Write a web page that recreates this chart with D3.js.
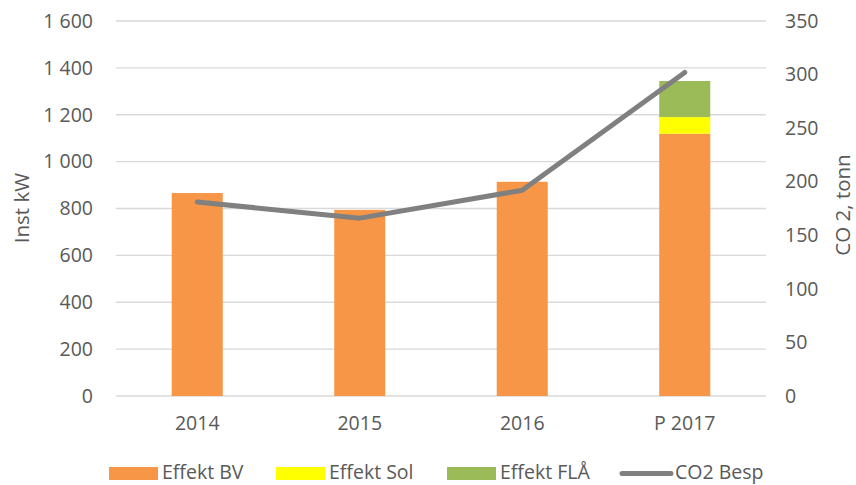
<!DOCTYPE html>
<html>
<head>
<meta charset="utf-8">
<script src="https://cdn.jsdelivr.net/npm/d3@7"></script>
<style>
  body { margin: 0; background: #fff; }
  text { font-family: "Open Sans", sans-serif; fill: #595959; }
</style>
</head>
<body>
<svg id="chart" width="856" height="485"></svg>
<script>
var years = ["2014", "2015", "2016", "P 2017"];
var effektBV = [866, 794, 914, 1119];
var effektSol = [0, 0, 0, 71];
var effektFLA = [0, 0, 0, 154];
var co2Besp = [181, 166, 192, 302];
var leftTicks = [0, 200, 400, 600, 800, 1000, 1200, 1400, 1600];
var rightTicks = [0, 50, 100, 150, 200, 250, 300, 350];

var seriesKeys = ["bv", "sol", "fla"];
var seriesNames = { bv: "Effekt BV", sol: "Effekt Sol", fla: "Effekt FLÅ" };
var colors = { bv: "#F79646", sol: "#FFFF00", fla: "#9BBB59" };

var rows = years.map(function(y, i) {
  return { year: y, bv: effektBV[i], sol: effektSol[i], fla: effektFLA[i], co2: co2Besp[i] };
});

var svg = d3.select("#chart");
var m = { left: 116, right: 766, top: 21, bottom: 396 };
var fs = "19.5px";

var x = d3.scaleBand().domain(years).range([m.left, m.right]).paddingInner(0.686).paddingOuter(0.343);
var y = d3.scaleLinear().domain([0, 1600]).range([m.bottom, m.top]);
var y2 = d3.scaleLinear().domain([0, 350]).range([m.bottom, m.top]);

var fmt = d3.formatLocale({ decimal: ",", thousands: "\u00a0", grouping: [3], currency: ["", ""] }).format(",d");

// grid
svg.append("g")
  .selectAll("line")
  .data(leftTicks)
  .join("line")
  .attr("x1", m.left).attr("x2", m.right)
  .attr("y1", function(d) { return y(d); })
  .attr("y2", function(d) { return y(d); })
  .attr("stroke", "#d9d9d9")
  .attr("stroke-width", 1.3);

// left axis
var gl = svg.append("g")
  .attr("transform", "translate(" + m.left + ",0)")
  .call(d3.axisLeft(y).tickValues(leftTicks).tickFormat(fmt).tickSize(0).tickPadding(23));
gl.select(".domain").remove();
gl.selectAll("text").style("font-size", fs).style("font-family", null).attr("fill", null);

// right axis
var gr = svg.append("g")
  .attr("transform", "translate(" + m.right + ",0)")
  .call(d3.axisRight(y2).tickValues(rightTicks).tickSize(0).tickPadding(19));
gr.select(".domain").remove();
gr.selectAll("text").style("font-size", fs).style("font-family", null).attr("fill", null);

// x axis
var gx = svg.append("g")
  .attr("transform", "translate(0," + m.bottom + ")")
  .call(d3.axisBottom(x).tickSize(0).tickPadding(20));
gx.select(".domain").remove();
gx.selectAll("text").style("font-size", fs).style("font-family", null).attr("fill", null);

// stacked bars
var stacked = d3.stack().keys(seriesKeys)(rows);
svg.append("g")
  .selectAll("g")
  .data(stacked)
  .join("g")
  .attr("fill", function(s) { return colors[s.key]; })
  .selectAll("rect")
  .data(function(s) { return s; })
  .join("rect")
  .attr("x", function(d) { return x(d.data.year); })
  .attr("width", x.bandwidth())
  .attr("y", function(d) { return y(d[1]); })
  .attr("height", function(d) { return y(d[0]) - y(d[1]); });

// CO2 line
var line = d3.line()
  .x(function(d) { return x(d.year) + x.bandwidth() / 2; })
  .y(function(d) { return y2(d.co2); });
svg.append("path")
  .datum(rows)
  .attr("d", line)
  .attr("fill", "none")
  .attr("stroke", "#808080")
  .attr("stroke-width", 5)
  .attr("stroke-linecap", "round")
  .attr("stroke-linejoin", "round");

// axis titles
svg.append("text")
  .attr("transform", "translate(29,208) rotate(-90)")
  .attr("text-anchor", "middle")
  .style("font-size", "20.5px")
  .text("Inst kW");
svg.append("text")
  .attr("transform", "translate(850,205) rotate(-90)")
  .attr("text-anchor", "middle")
  .style("font-size", "20.5px")
  .text("CO 2, tonn");

// legend
var legendX = [109, 276, 447];
var lg = svg.append("g");
seriesKeys.forEach(function(k, i) {
  lg.append("rect")
    .attr("x", legendX[i]).attr("y", 467)
    .attr("width", 49).attr("height", 13)
    .attr("fill", colors[k]);
  lg.append("text")
    .attr("x", legendX[i] + 53).attr("y", 479)
    .style("font-size", fs)
    .text(seriesNames[k]);
});
lg.append("line")
  .attr("x1", 622).attr("x2", 671)
  .attr("y1", 473.5).attr("y2", 473.5)
  .attr("stroke", "#808080")
  .attr("stroke-width", 5)
  .attr("stroke-linecap", "round");
lg.append("text")
  .attr("x", 675).attr("y", 479)
  .style("font-size", fs)
  .text("CO2 Besp");
</script>
</body>
</html>
